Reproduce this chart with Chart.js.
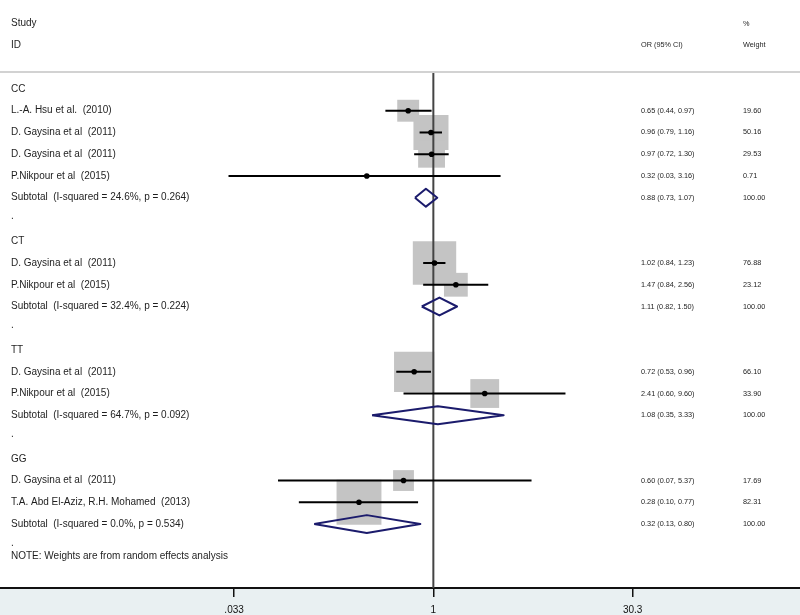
<!DOCTYPE html>
<html lang="en">
<head>
<meta charset="UTF-8">
<title>Forest plot</title>
<script src="https://cdn.jsdelivr.net/npm/chart.js"></script>
<style>
  body { margin: 0; background: #fff; }
  canvas { display: block; }
</style>
</head>
<body>
<canvas id="forest" width="800" height="615"></canvas>
<script>
// subgroup headers
const groupNames = ['CC', 'CT', 'TT', 'GG'];
const groupRows = [0, 7, 12, 17];

// single studies
const studyNames = [
    'L.-A. Hsu et al.  (2010)',
    'D. Gaysina et al  (2011)',
    'D. Gaysina et al  (2011)',
    'P.Nikpour et al  (2015)',
    'D. Gaysina et al  (2011)',
    'P.Nikpour et al  (2015)',
    'D. Gaysina et al  (2011)',
    'P.Nikpour et al  (2015)',
    'D. Gaysina et al  (2011)',
    'T.A. Abd El-Aziz, R.H. Mohamed  (2013)'
];
const studyRows = [1, 2, 3, 4, 8, 9, 13, 14, 18, 19];
const studyOR = [0.65, 0.96, 0.97, 0.32, 1.02, 1.47, 0.72, 2.41, 0.60, 0.28];
const studyLow = [0.44, 0.79, 0.72, 0.03, 0.84, 0.84, 0.53, 0.60, 0.07, 0.10];
const studyHigh = [0.97, 1.16, 1.30, 3.16, 1.23, 2.56, 0.96, 9.60, 5.37, 0.77];
const studyWeight = [19.60, 50.16, 29.53, 0.71, 76.88, 23.12, 66.10, 33.90, 17.69, 82.31];

// pooled estimates
const subtotalLabels = [
    'Subtotal  (I-squared = 24.6%, p = 0.264)',
    'Subtotal  (I-squared = 32.4%, p = 0.224)',
    'Subtotal  (I-squared = 64.7%, p = 0.092)',
    'Subtotal  (I-squared = 0.0%, p = 0.534)'
];
const subtotalRows = [5, 10, 15, 20];
const subtotalOR = [0.88, 1.11, 1.08, 0.32];
const subtotalLow = [0.73, 0.82, 0.35, 0.13];
const subtotalHigh = [1.07, 1.50, 3.33, 0.80];
const subtotalWeight = [100, 100, 100, 100];

const blankRows = [6, 11, 16, 21];
const noteText = 'NOTE: Weights are from random effects analysis';
const noteRow = 21.5;

// x axis (odds ratio, log scale)
const tickValues = [0.033, 1, 30.3];
const tickLabels = ['.033', '1', '30.3'];

const headRow1 = -3;   // "Study", "%"
const headRow2 = -2;   // "ID", "OR (95% CI)", "Weight"
const headRuleRow = -0.78;

const fmt = v => v.toFixed(2);
const leftFont = '10px "Liberation Sans", Arial, sans-serif';
const smallFont = '7.3px "Liberation Sans", Arial, sans-serif';

// ---------- datasets ----------
const datasets = [];

// point estimate dots (on top)
datasets.push({
    data: studyOR.map((v, i) => ({ x: v, y: studyRows[i] })),
    pointStyle: 'circle',
    pointRadius: 2.8,
    backgroundColor: '#000',
    borderWidth: 0,
    order: 1
});

// diamonds for subtotals
subtotalOR.forEach((v, i) => {
    const r = subtotalRows[i];
    datasets.push({
        showLine: true,
        data: [
            { x: subtotalLow[i], y: r },
            { x: v, y: r - 0.41 },
            { x: subtotalHigh[i], y: r },
            { x: v, y: r + 0.41 },
            { x: subtotalLow[i], y: r }
        ],
        borderColor: '#1b1b6c',
        borderWidth: 2,
        borderJoinStyle: 'round',
        pointRadius: 0,
        fill: false,
        order: 2
    });
});

// confidence interval lines
studyOR.forEach((v, i) => {
    datasets.push({
        showLine: true,
        data: [{ x: studyLow[i], y: studyRows[i] }, { x: studyHigh[i], y: studyRows[i] }],
        borderColor: '#000',
        borderWidth: 2,
        pointRadius: 0,
        order: 3
    });
});

// reference line at OR = 1
datasets.push({
    showLine: true,
    data: [{ x: 1, y: headRuleRow }, { x: 1, y: 23 }],
    borderColor: '#444',
    borderWidth: 2,
    pointRadius: 0,
    order: 4
});

// weight boxes (area ~ weight)
datasets.push({
    data: studyOR.map((v, i) => ({ x: v, y: studyRows[i] })),
    pointStyle: 'rect',
    pointRadius: studyWeight.map(w => 3.5 * Math.sqrt(w)),
    backgroundColor: '#c4c4c4',
    borderWidth: 0,
    order: 5
});

// ---------- background + text columns ----------
const forestText = {
    id: 'forestText',
    beforeDraw(chart) {
        const { ctx, chartArea } = chart;
        ctx.save();
        ctx.fillStyle = '#fff';
        ctx.fillRect(0, 0, chart.width, chart.height);
        ctx.fillStyle = '#e9f0f2';
        ctx.fillRect(0, chartArea.bottom, chart.width, chart.height - chartArea.bottom);
        ctx.restore();
    },
    afterDatasetsDraw(chart) {
        const { ctx } = chart;
        const ys = chart.scales.y;
        const py = r => ys.getPixelForValue(r);
        ctx.save();

        // rule under the header
        ctx.strokeStyle = '#d2d2d2';
        ctx.lineWidth = 2;
        ctx.beginPath();
        ctx.moveTo(0, py(headRuleRow));
        ctx.lineTo(chart.width, py(headRuleRow));
        ctx.stroke();

        ctx.fillStyle = '#1e1e1e';
        ctx.textBaseline = 'middle';
        ctx.textAlign = 'left';

        ctx.font = leftFont;
        ctx.fillText('Study', 11, py(headRow1));
        ctx.fillText('ID', 11, py(headRow2));
        groupNames.forEach((g, i) => ctx.fillText(g, 11, py(groupRows[i])));
        studyNames.forEach((s, i) => ctx.fillText(s, 11, py(studyRows[i])));
        subtotalLabels.forEach((s, i) => ctx.fillText(s, 11, py(subtotalRows[i])));
        blankRows.forEach(r => ctx.fillText('.', 11, py(r) - 3));
        ctx.fillText(noteText, 11, py(noteRow));

        ctx.font = smallFont;
        ctx.fillText('%', 743, py(headRow1));
        ctx.fillText('OR (95% CI)', 641, py(headRow2));
        ctx.fillText('Weight', 743, py(headRow2));
        studyOR.forEach((v, i) => {
            ctx.fillText(`${fmt(v)} (${fmt(studyLow[i])}, ${fmt(studyHigh[i])})`, 641, py(studyRows[i]));
            ctx.fillText(fmt(studyWeight[i]), 743, py(studyRows[i]));
        });
        subtotalOR.forEach((v, i) => {
            ctx.fillText(`${fmt(v)} (${fmt(subtotalLow[i])}, ${fmt(subtotalHigh[i])})`, 641, py(subtotalRows[i]));
            ctx.fillText(fmt(subtotalWeight[i]), 743, py(subtotalRows[i]));
        });
        ctx.restore();
    }
};

new Chart(document.getElementById('forest').getContext('2d'), {
    type: 'scatter',
    data: { datasets },
    options: {
        responsive: false,
        animation: false,
        layout: { padding: 0, autoPadding: false },
        plugins: { legend: { display: false }, tooltip: { enabled: false } },
        scales: {
            x: {
                type: 'logarithmic',
                min: 0.000631,
                max: 532,
                afterBuildTicks: axis => { axis.ticks = tickValues.map(v => ({ value: v })); },
                afterFit: axis => { axis.height = 27; },
                grid: { drawOnChartArea: false, drawTicks: true, tickLength: 9, color: '#111', lineWidth: 1.5 },
                border: { display: true, color: '#111', width: 2 },
                ticks: {
                    autoSkip: false,
                    maxRotation: 0,
                    padding: 7,
                    color: '#111',
                    font: { family: '"Liberation Sans", Arial, sans-serif', size: 10 },
                    callback: (v, i) => tickLabels[i]
                }
            },
            y: {
                type: 'linear',
                display: false,
                reverse: true,
                min: -4.09,
                max: 22.94
            }
        }
    },
    plugins: [forestText]
});
</script>
</body>
</html>
